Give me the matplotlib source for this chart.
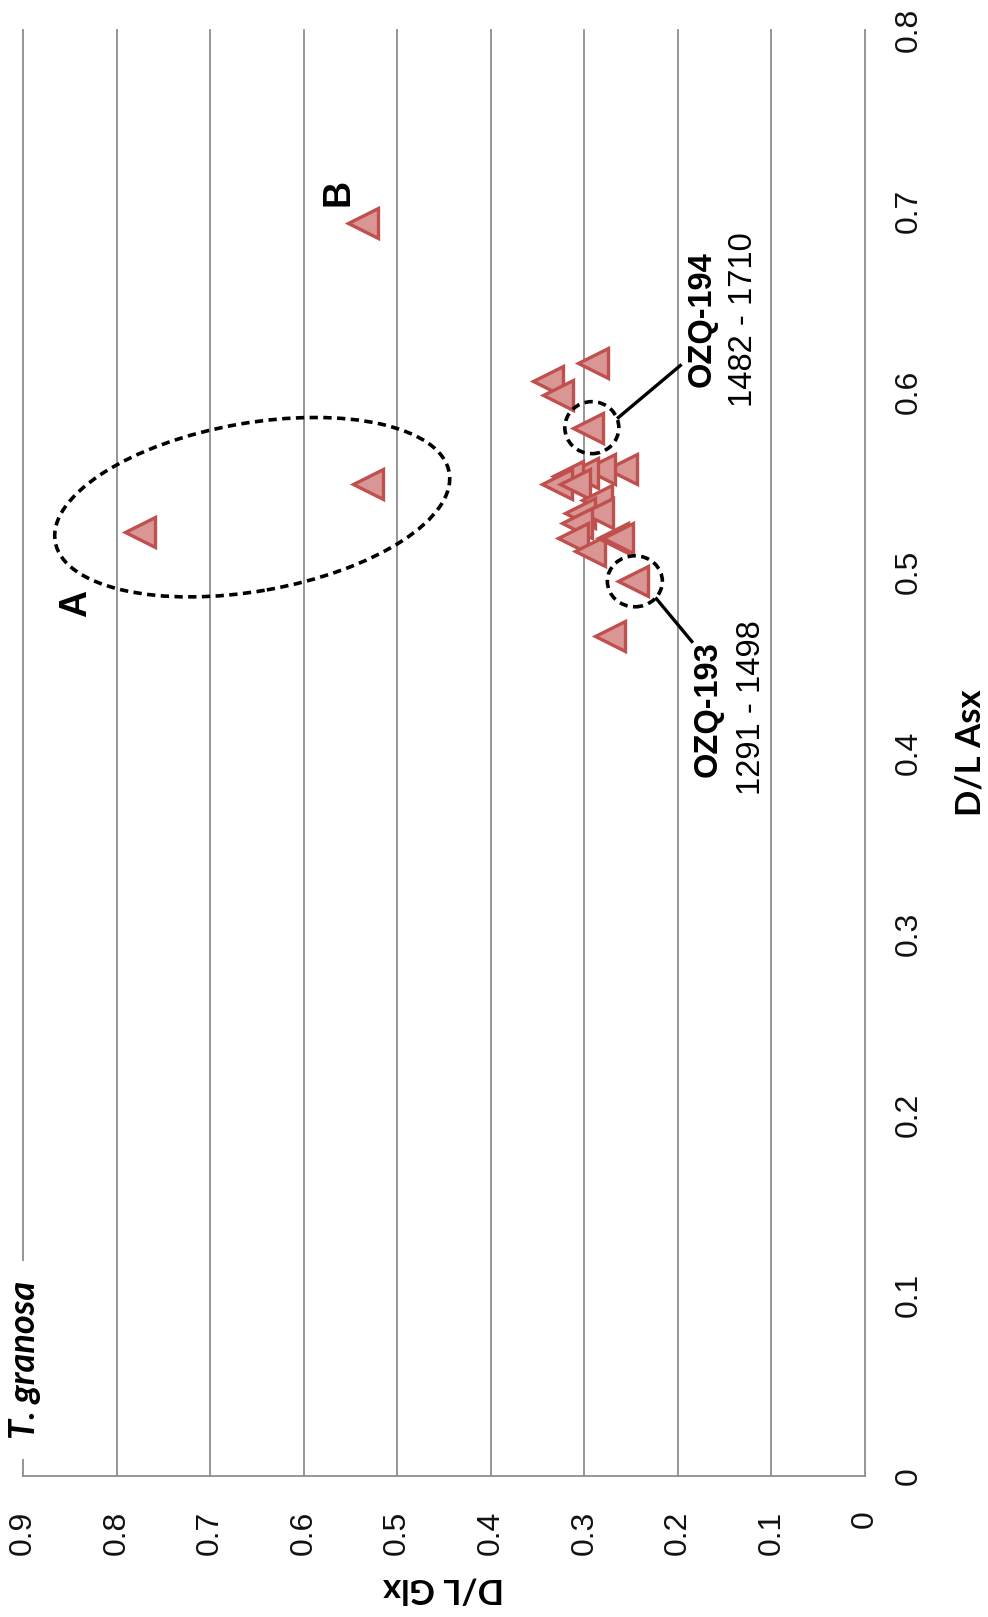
import matplotlib
matplotlib.use("Agg")
import matplotlib.pyplot as plt
from matplotlib.patches import Ellipse
from matplotlib.transforms import ScaledTranslation

# D/L values for T. granosa shells (Glx on the long axis, Asx on the short one)
glx = [0.775, 0.531, 0.537, 0.291, 0.339, 0.328, 0.296,
       0.260, 0.283, 0.301, 0.317, 0.329, 0.310, 0.286,
       0.305, 0.285, 0.308, 0.312, 0.294, 0.269, 0.264,
       0.248, 0.273]
asx = [0.522, 0.549, 0.693, 0.616, 0.606, 0.598, 0.580,
       0.557, 0.557, 0.555, 0.553, 0.549, 0.549, 0.540,
       0.533, 0.533, 0.527, 0.519, 0.512, 0.519, 0.519,
       0.495, 0.465]

# dated samples (Glx, Asx)
ozq194 = (0.296, 0.580)
ozq193 = (0.248, 0.495)

glx_ticks = [0, 0.1, 0.2, 0.3, 0.4, 0.5, 0.6, 0.7, 0.8, 0.9]
glx_labels = ["0", "0.1", "0.2", "0.3", "0.4", "0.5", "0.6", "0.7", "0.8", "0.9"]
asx_ticks = [0, 0.1, 0.2, 0.3, 0.4, 0.5, 0.6, 0.7, 0.8]
asx_labels = ["0", "0.1", "0.2", "0.3", "0.4", "0.5", "0.6", "0.7", "0.8"]

W, H = 988, 1617
GRID = "#8e8e8e"
FACE = "#D99694"
EDGE = "#C0504D"
TICKFONT = "Liberation Sans"

fig = plt.figure(figsize=(W / 100, H / 100), dpi=100)
ax = fig.add_axes([23 / W, 141 / H, 842 / W, 1446 / H])
ax.set_xlim(0.9, 0)
ax.set_ylim(0, 0.8)

for g in glx_ticks[1:]:
    ax.axvline(g, color=GRID, lw=1.3, zorder=1, clip_on=False)

for s in ("left", "top"):
    ax.spines[s].set_visible(False)
for s in ("right", "bottom"):
    ax.spines[s].set_color(GRID)
    ax.spines[s].set_linewidth(1.3)

ax.set_xticks(glx_ticks)
ax.set_xticklabels(glx_labels, rotation=90, ha="center", va="top",
                   fontsize=23, family=TICKFONT, color="#111111")
ax.yaxis.tick_right()
ax.set_yticks(asx_ticks)
ax.set_yticklabels(asx_labels, rotation=90, ha="left", va="center",
                   fontsize=23, family=TICKFONT, color="#111111")
ax.tick_params(axis="x", length=0, pad=25)
ax.tick_params(axis="y", length=0, pad=21)

ax.plot(glx, asx, linestyle="none", marker="<", ms=22, mfc=FACE,
        mec=EDGE, mew=2.4, zorder=3, clip_on=False)


def ring(x, y, w_in, h_in, angle=0.0):
    tr = fig.dpi_scale_trans + ScaledTranslation(x, y, ax.transData)
    e = Ellipse((0, 0), w_in, h_in, angle=angle, transform=tr, fill=False,
                ec="black", lw=2.6, ls=(0, (2.3, 1.5)), zorder=4, clip_on=False)
    ax.add_patch(e)


# group A outline and the circles around the dated shells
ring(0.655, 0.536, 4.0, 1.68, angle=10)
ring(ozq194[0] - 0.004, ozq194[1], 0.54, 0.52)
ring(ozq193[0] - 0.002, ozq193[1], 0.55, 0.51)

# leader lines to the radiocarbon labels
ax.plot([0.265, 0.196], [0.585, 0.615], color="black", lw=2.4, zorder=4,
        solid_capstyle="butt")
ax.plot([0.224, 0.184], [0.486, 0.461], color="black", lw=2.4, zorder=4,
        solid_capstyle="butt")

ax.text(0.174, 0.640, "OZQ-194", rotation=90, ha="center", va="center",
        fontsize=23.5, fontweight="bold", family=TICKFONT)
ax.text(0.130, 0.640, "1482 - 1710", rotation=90, ha="center", va="center",
        fontsize=23.5, family=TICKFONT)
ax.text(0.168, 0.424, "OZQ-193", rotation=90, ha="center", va="center",
        fontsize=23.5, fontweight="bold", family=TICKFONT)
ax.text(0.121, 0.425, "1291 - 1498", rotation=90, ha="center", va="center",
        fontsize=23.5, family=TICKFONT)

ax.text(0.843, 0.483, "A", rotation=90, ha="center", va="center",
        fontsize=27, fontweight="bold", family=TICKFONT)
ax.text(0.563, 0.710, "B", rotation=90, ha="center", va="center",
        fontsize=27, fontweight="bold", family=TICKFONT)

ax.text(0.898, 0.064, "T. granosa", rotation=90, ha="center", va="center",
        fontsize=26, fontweight="bold", style="italic", family="Lato",
        zorder=5, clip_on=False,
        bbox=dict(boxstyle="square,pad=0.55", fc="white", ec="none"))

fig.text(970 / W, 1 - 753 / H, "D/L Asx", rotation=90, ha="center",
         va="center", fontsize=25, fontweight="bold", family="Lato")
fig.text(443 / W, 1 - 1588 / H, "D/L Glx", rotation=180, ha="center",
         va="center", fontsize=25, fontweight="bold", family="Lato")

fig.savefig("out.png", dpi=100, facecolor="white")
